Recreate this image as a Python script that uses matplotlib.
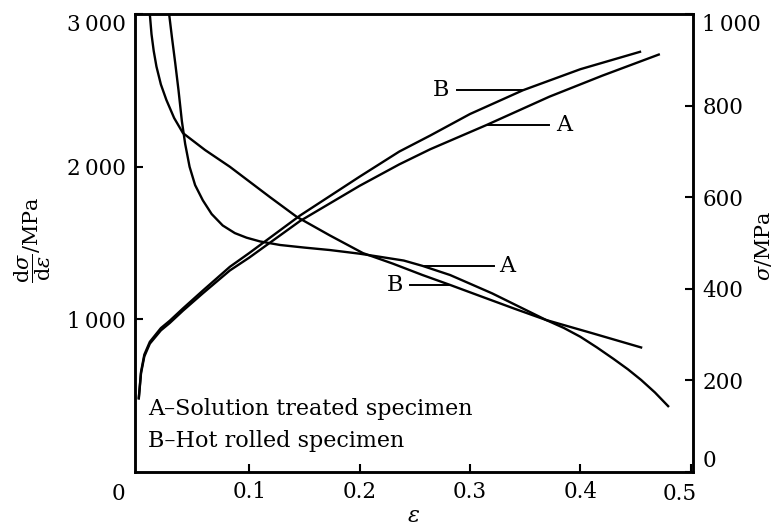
import matplotlib.pyplot as plt
import matplotlib as mpl
import numpy as np

mpl.rcParams["font.family"] = "DejaVu Serif"
mpl.rcParams["mathtext.fontset"] = "dejavuserif"

# ---- data ----
# stress-strain curves (right axis, MPa)
eps_sig_A = [0, 0.002, 0.005, 0.01, 0.02, 0.028, 0.04, 0.058, 0.0825, 0.1,
             0.146, 0.2, 0.236, 0.264, 0.315, 0.372, 0.42, 0.471]
sig_A = [160, 215, 252, 280, 309, 325, 352, 390, 440, 468,
         548, 625, 672, 705, 758, 820, 866, 912]
eps_sig_B = [0, 0.002, 0.005, 0.01, 0.02, 0.028, 0.04, 0.058, 0.0825, 0.1,
             0.146, 0.2, 0.236, 0.264, 0.3, 0.348, 0.4, 0.454]
sig_B = [162, 218, 256, 284, 314, 330, 357, 396, 448, 478,
         560, 645, 700, 735, 782, 834, 880, 918]

# work hardening rate curves (left axis, MPa)
eps_rate_A = [0.0275, 0.030, 0.033, 0.036, 0.039, 0.042, 0.046, 0.051,
              0.058, 0.066, 0.076, 0.087, 0.0976, 0.11, 0.128, 0.15,
              0.173, 0.2, 0.218, 0.24, 0.257, 0.282, 0.32, 0.369, 0.41, 0.455]
rate_A = [3000, 2850, 2680, 2500, 2300, 2150, 2000, 1880,
          1780, 1690, 1615, 1565, 1535, 1510, 1487, 1470,
          1454, 1430, 1410, 1385, 1350, 1290, 1170, 995, 910, 815]
eps_rate_B = [0.010, 0.0115, 0.0135, 0.016, 0.020, 0.025, 0.032, 0.040,
              0.060, 0.0825, 0.119, 0.143, 0.173, 0.203, 0.23, 0.257,
              0.282, 0.31, 0.34, 0.369, 0.385, 0.40, 0.415, 0.43, 0.443,
              0.455, 0.4675, 0.4795]
rate_B = [3000, 2870, 2760, 2657, 2540, 2438, 2320, 2221,
          2110, 2000, 1800, 1672, 1550, 1434, 1365, 1290,
          1225, 1150, 1070, 995, 943, 885, 815, 740, 672,
          602, 520, 430]

x_ticks = [0.1, 0.2, 0.3, 0.4, 0.5]
x_labels = ["0.1", "0.2", "0.3", "0.4", ""]
left_ticks = [1000, 2000, 3000]
left_labels = ["1\u2009000", "2\u2009000", "3\u2009000"]
right_ticks = [0, 200, 400, 600, 800, 1000]
right_labels = ["0", "200", "400", "600", "800", "1\u2009000"]

# ---- figure ----
fig = plt.figure(figsize=(7.76, 5.28), dpi=100)
ax = fig.add_axes([0.1746, 0.1066, 0.718, 0.8663])
ax2 = ax.twinx()

lw = 1.7
ax.plot(eps_rate_A, rate_A, color="black", lw=lw)
ax.plot(eps_rate_B, rate_B, color="black", lw=lw)
ax2.plot(eps_sig_A, sig_A, color="black", lw=lw)
ax2.plot(eps_sig_B, sig_B, color="black", lw=lw)

ax.set_xlim(-0.003, 0.5017)
ax.set_ylim(0, 3000)
ax2.set_ylim(0, 1000)

for a in (ax, ax2):
    for s in a.spines.values():
        s.set_linewidth(1.8)

ax.set_xticks(x_ticks)
ax.set_xticklabels(x_labels)
ax.set_yticks(left_ticks)
ax.set_yticklabels(left_labels)
ax2.set_yticks(right_ticks)
ax2.set_yticklabels(right_labels)

fs = 15.5
ax.tick_params(axis="both", direction="in", length=6, width=1.5,
               labelsize=fs, pad=7)
ax2.tick_params(axis="y", direction="in", length=6, width=1.5,
                labelsize=fs, pad=7)
ax.get_yticklabels()[-1].set_va("top")
ax2.get_yticklabels()[-1].set_va("top")
ax2.get_yticklabels()[0].set_va("bottom")

# shared origin label and the shifted 0.5 label
ax.text(-0.03, -0.048, "0", transform=ax.transAxes, ha="center", va="center",
        fontsize=fs)
ax.text(0.977, -0.048, "0.5", transform=ax.transAxes, ha="center", va="center",
        fontsize=fs)

fig.text(414 / 776, 1 - 516 / 528, r"$\epsilon$", ha="center", va="center",
         fontsize=16)
fig.text(33 / 776, 0.545, r"$\dfrac{\mathrm{d}\sigma}{\mathrm{d}\epsilon}$/MPa",
         rotation=90, ha="center", va="center", fontsize=15)
fig.text(0.984, 0.535, r"$\sigma$/MPa", rotation=90, ha="center", va="center",
         fontsize=15)

# ---- curve labels with leader lines ----
def leader(axis, xs, ys, x_tip, x_end, text, x_text):
    y = np.interp(x_tip, xs, ys)
    axis.plot([x_tip, x_end], [y, y], color="black", lw=1.4)
    axis.text(x_text, y, text, ha="center", va="center", fontsize=16)

leader(ax2, eps_sig_B, sig_B, 0.348, 0.2878, "B", 0.274)
leader(ax2, eps_sig_A, sig_A, 0.315, 0.372, "A", 0.385)
leader(ax, eps_rate_A, rate_A, 0.2576, 0.3217, "A", 0.334)
leader(ax, eps_rate_B, rate_B, 0.282, 0.2456, "B", 0.232)

ax.text(0.022, 0.137, "A\u2013Solution treated specimen", transform=ax.transAxes,
        fontsize=16, va="center", ha="left")
ax.text(0.022, 0.068, "B\u2013Hot rolled specimen", transform=ax.transAxes,
        fontsize=16, va="center", ha="left")

fig.savefig("out.png", dpi=100)
